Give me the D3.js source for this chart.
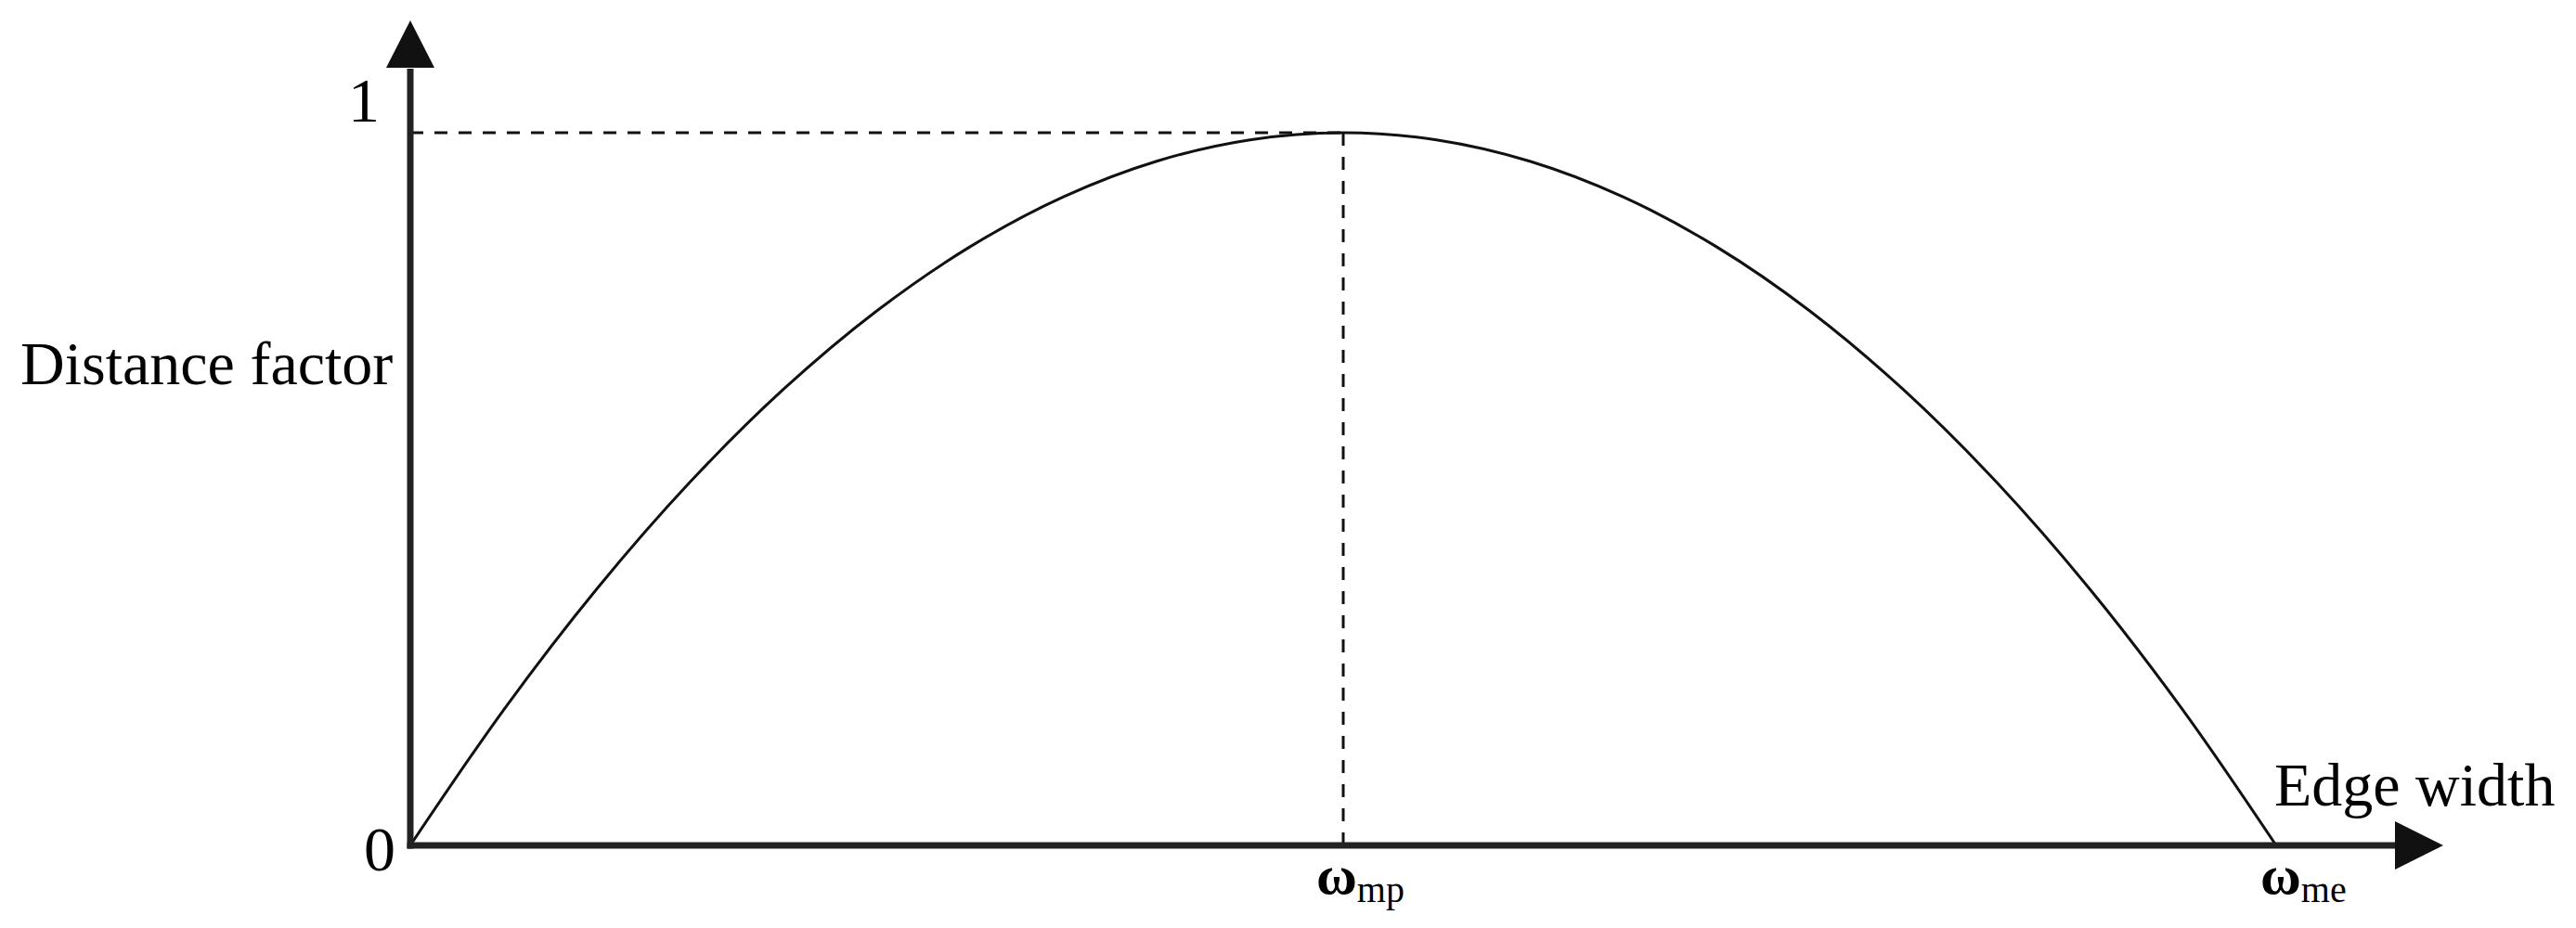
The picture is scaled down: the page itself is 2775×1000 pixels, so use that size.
<!DOCTYPE html>
<html>
<head>
<meta charset="utf-8">
<script src="https://cdn.jsdelivr.net/npm/d3@7"></script>
<style>
  html, body { margin: 0; padding: 0; background: #fff; }
  svg { display: block; }
  text { font-family: "Liberation Serif", "Times New Roman", serif; fill: #000; }
</style>
</head>
<body>
<svg id="chart" width="2775" height="1000"></svg>
<script>
// ---- data ----
const edgeWidth = [0, 0.1, 0.2, 0.3, 0.4, 0.5, 0.6, 0.7, 0.8, 0.9, 1.0, 1.1, 1.2, 1.3, 1.4, 1.5, 1.6, 1.7, 1.8, 1.9, 2.0];
const distanceFactor = [0, 0.19, 0.36, 0.51, 0.64, 0.75, 0.84, 0.91, 0.96, 0.99, 1.0, 0.99, 0.96, 0.91, 0.84, 0.75, 0.64, 0.51, 0.36, 0.19, 0];
const yTickValues = [0, 1];
const yTickLabels = ["0", "1"];
const xMarkValues = [1, 2];
const xMarkSubs = ["mp", "me"];
const peakX = 1;
const peakY = 1;
const xAxisTitle = "Edge width";
const yAxisTitle = "Distance factor";

// ---- layout ----
const svg = d3.select("#chart");
const x = d3.scaleLinear().domain([0, 2]).range([442, 2452]);
const y = d3.scaleLinear().domain([0, 1]).range([911, 143]);
const axisColor = "#222";

// dashed guide lines
svg.append("line")
  .attr("x1", x(0)).attr("x2", x(peakX))
  .attr("y1", y(peakY)).attr("y2", y(peakY))
  .attr("stroke", "#111").attr("stroke-width", 3)
  .attr("stroke-dasharray", "14,12");
svg.append("line")
  .attr("x1", x(peakX)).attr("x2", x(peakX))
  .attr("y1", y(peakY)).attr("y2", y(0))
  .attr("stroke", "#111").attr("stroke-width", 3)
  .attr("stroke-dasharray", "14,12");

// curve
const pts = edgeWidth.map((d, i) => [d, distanceFactor[i]]);
svg.append("path")
  .datum(pts)
  .attr("fill", "none")
  .attr("stroke", "#111")
  .attr("stroke-width", 3)
  .attr("d", d3.line().x(d => x(d[0])).y(d => y(d[1])).curve(d3.curveCatmullRom.alpha(0.5)));

// axes
const x0 = x(0), y0 = y(0);
svg.append("line")
  .attr("x1", x0).attr("x2", x0)
  .attr("y1", y0 + 3.5).attr("y2", 74)
  .attr("stroke", axisColor).attr("stroke-width", 7);
svg.append("line")
  .attr("x1", x0 - 3.5).attr("x2", 2582)
  .attr("y1", y0).attr("y2", y0)
  .attr("stroke", axisColor).attr("stroke-width", 7);
// arrowheads
svg.append("path")
  .attr("d", `M${x0},22 L${x0 + 26},73 L${x0 - 26},73 Z`)
  .attr("fill", "#111");
svg.append("path")
  .attr("d", `M2632,${y0} L2580,${y0 - 26} L2580,${y0 + 26} Z`)
  .attr("fill", "#111");

// y tick labels
svg.selectAll("text.ytick")
  .data(yTickValues)
  .enter().append("text")
  .attr("class", "ytick")
  .attr("x", (d, i) => i === 0 ? 426 : 409)
  .attr("y", (d, i) => i === 0 ? y(d) + 27 : y(d) - 12)
  .attr("text-anchor", "end")
  .attr("font-size", 68)
  .text((d, i) => yTickLabels[i]);

// x marks: omega labels
const omegaOffsets = [-29, -17];
const xl = svg.selectAll("text.xmark")
  .data(xMarkValues)
  .enter().append("text")
  .attr("class", "xmark")
  .attr("x", (d, i) => x(d) + omegaOffsets[i])
  .attr("y", 963)
  .attr("text-anchor", "start");
xl.append("tspan")
  .attr("font-size", 60)
  .attr("font-weight", "bold")
  .text("ω");
xl.append("tspan")
  .attr("font-size", 40)
  .attr("dy", 9)
  .text((d, i) => xMarkSubs[i]);

// axis titles
svg.append("text")
  .attr("x", 22).attr("y", 414)
  .attr("font-size", 66)
  .text(yAxisTitle);
svg.append("text")
  .attr("x", 2450).attr("y", 868)
  .attr("font-size", 66)
  .text(xAxisTitle);
</script>
</body>
</html>
